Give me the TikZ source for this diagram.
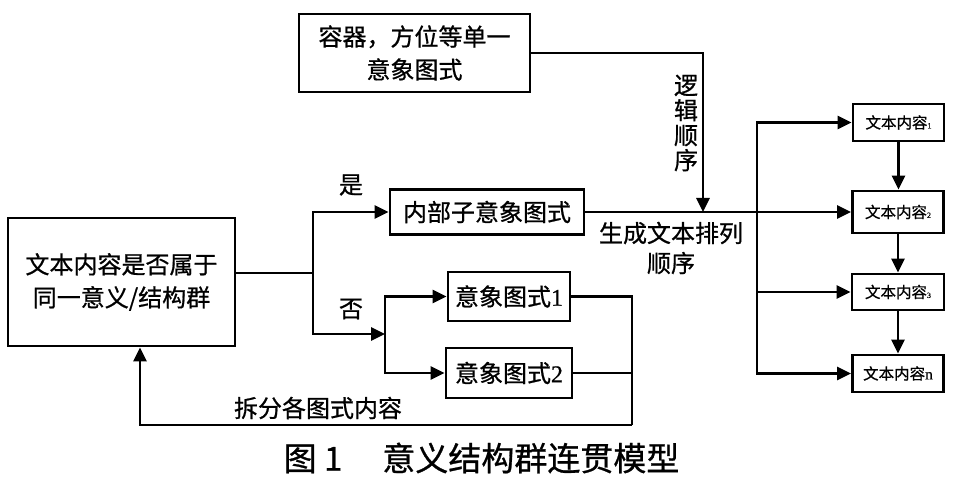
\documentclass[tikz,border=0pt]{standalone}
\usepackage{fontspec}
\setmainfont{Noto Sans CJK SC}[FakeBold=0.8]
\newfontfamily\numfont{Liberation Serif}[FakeBold=0.8]
\usetikzlibrary{arrows.meta,positioning,calc}

\tikzset{
  box/.style={draw,line width=2.9pt,align=center,inner sep=2pt,font=\fontsize{24}{33}\selectfont},
  smallbox/.style={box,font=\fontsize{15.5}{18}\selectfont},
  arr/.style={-{Triangle[length=14pt,width=13pt]}},
  lbl/.style={align=center,inner sep=0pt,font=\fontsize{24}{30}\selectfont}
}

\begin{document}
\begin{tikzpicture}[x=1pt,y=-1pt,line width=2.9pt]
  \useasboundingbox (0,0) rectangle (961,481);

  % boxes
  \node[box,minimum width=227pt,minimum height=128pt] (main) at (121.5,282) {文本内容是否属于\\同一意义/结构群};
  \node[box,minimum width=231pt,minimum height=78pt] (top) at (414.5,53) {容器，方位等单一\\意象图式};
  \node[box,minimum width=194pt,minimum height=45pt] (inner) at (487,212) {内部子意象图式};
  \node[box,minimum width=122pt,minimum height=49pt] (img1) at (509,296.5) {意象图式{\numfont 1}};
  \node[box,minimum width=126pt,minimum height=50pt] (img2) at (509,373) {意象图式{\numfont 2}};

  \node[smallbox,minimum width=91pt,minimum height=37pt] (t1) at (898.5,122.5) {文本内容{\numfont\footnotesize 1}};
  \node[smallbox,minimum width=91pt,minimum height=42pt] (t2) at (898,212) {文本内容{\numfont\footnotesize 2}};
  \node[smallbox,minimum width=92pt,minimum height=36pt] (t3) at (898,292) {文本内容{\numfont\footnotesize 3}};
  \node[smallbox,minimum width=91pt,minimum height=37pt] (tn) at (898,373.5) {文本内容{\numfont n}};

  % helper points
  \coordinate (split) at (313,273);
  \coordinate (fork) at (385,334);
  \coordinate (back) at (632,425);
  \coordinate (ret) at (140,425);
  \coordinate (merge) at (703,212);
  \coordinate (bus) at (757,212);

  % yes / no branches
  \draw (split -| main.east) -- (split);
  \draw[arr] (split) |- (inner.west);
  \draw[arr] (split) |- (fork);
  \draw[arr] (fork) |- (img1.west);
  \draw[arr] (fork) |- (img2.west);
  \node[lbl] (yes) at (351,185) {是};
  \node[lbl] (no) at (351,309) {否};

  % split back to the question
  \draw (img1.east) -| (back);
  \draw (img2.east) -- (img2.east -| back);
  \draw[arr] (back) -- (ret) -- (ret |- main.south);
  \node[lbl] (splitlbl) at (318,408) {拆分各图式内容};

  % single schema
  \draw[arr] (top.east) -| (merge);
  \node[lbl,font=\fontsize{24}{25}\selectfont] (logic) at (686,123) {逻\\辑\\顺\\序};

  % ordering
  \draw[arr] (inner.east) -- (t2.west);
  \node[lbl] (order) at (671,248) {生成文本排列\\顺序};
  \draw[arr] (bus) |- (t1.west);
  \draw[arr] (bus) |- (tn.west);
  \draw[arr] (bus |- t3) -- (t3.west);
  \draw[arr] (t1.south) -- (t1.south |- t2.north);
  \draw[arr] (t2.south) -- (t2.south |- t3.north);
  \draw[arr] (t3.south) -- (t3.south |- tn.north);

  % caption
  \node[inner sep=0pt,font=\fontsize{33}{36}\selectfont] (cap) at (481.5,458) {图 1\hspace{40pt}意义结构群连贯模型};
\end{tikzpicture}
\end{document}
